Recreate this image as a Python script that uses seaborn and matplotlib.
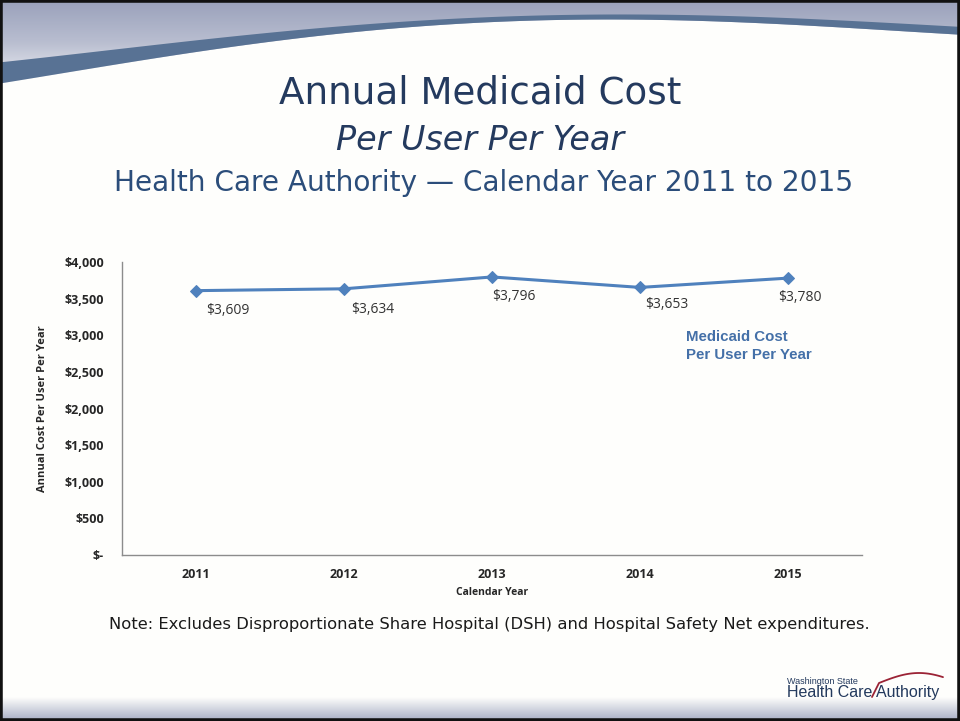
import numpy as np
import pandas as pd
import matplotlib
matplotlib.use("Agg")
import matplotlib.pyplot as plt
import seaborn as sns
from matplotlib.patches import Polygon, Rectangle
from matplotlib.colors import LinearSegmentedColormap

# data
years = ["2011", "2012", "2013", "2014", "2015"]
cost = [3609, 3634, 3796, 3653, 3780]
y_ticks = [0, 500, 1000, 1500, 2000, 2500, 3000, 3500, 4000]
y_tick_labels = ["$-", "$500", "$1,000", "$1,500", "$2,000", "$2,500", "$3,000", "$3,500", "$4,000"]

df = pd.DataFrame({"year": years, "cost": cost})

sns.set_style("white")
plt.rcParams['font.family'] = ['DejaVu Sans']

fig = plt.figure(figsize=(9.6, 7.21), dpi=100)
W, H = 960, 721

def fx(x):
    return x / W

def fy(y):
    return 1 - y / H

# --- slide decoration ---
grad = np.linspace(0, 1, 100).reshape(-1, 1)
bg = fig.add_axes([0, fy(85), 1, 85 / H], zorder=0)
bg.imshow(grad, aspect="auto", extent=[0, 1, 0, 1],
          cmap=LinearSegmentedColormap.from_list("g", ["#9aa1bb", "#b9bed0", "#f0f1f5"]))
bg.axis("off")
xs = np.linspace(0, W, 300)
kx = [0, 100, 200, 320, 480, 640, 800, 960]
up_c = np.polyfit(kx, [62, 52, 40, 27, 18, 15, 18, 27], 4)
lo_c = np.polyfit(kx, [83, 68, 52, 34, 23, 21, 24, 35], 4)
upper = np.polyval(up_c, xs)
lower = np.polyval(lo_c, xs)
white_pts = [(fx(x), fy(y)) for x, y in zip(xs, lower)] + [(1, fy(95)), (0, fy(95))]
fig.patches.append(Polygon(white_pts, closed=True, transform=fig.transFigure,
                           facecolor="#fefefc", edgecolor="none", zorder=1))
band_pts = [(fx(x), fy(y)) for x, y in zip(xs, upper)] + \
           [(fx(x), fy(y)) for x, y in zip(xs[::-1], lower[::-1])]
fig.patches.append(Polygon(band_pts, closed=True, transform=fig.transFigure,
                           facecolor="#587294", edgecolor="none", zorder=2))
fig.patch.set_facecolor("#fefefc")
# bottom gradient
bb = fig.add_axes([0, 0, 1, 24 / H], zorder=0)
bb.imshow(grad, aspect="auto", extent=[0, 1, 0, 1],
          cmap=LinearSegmentedColormap.from_list("b", ["#fefefc", "#a6adc4"]))
bb.axis("off")
# frame
fig.patches.append(Rectangle((0, 0), 1, 1, transform=fig.transFigure, fill=False,
                             edgecolor="#111111", linewidth=4, zorder=10))

# --- titles ---
navy = "#243a5e"
fig.text(0.5, fy(93), "Annual Medicaid Cost", ha="center", va="center",
         fontsize=26.8, color=navy)
fig.text(0.5, fy(140), "Per User Per Year", ha="center", va="center",
         fontsize=24, color=navy, style="italic")
fig.text(483.5 / W, fy(183), "Health Care Authority \u2014 Calendar Year 2011 to 2015",
         ha="center", va="center", fontsize=20.2, color="#2b4d7a")

# --- chart ---
ax = fig.add_axes([fx(122), fy(555), fx(862) - fx(122), (555 - 262) / H], zorder=3)
ax.set_facecolor("none")
sns.lineplot(data=df, x="year", y="cost", ax=ax, color="#4f81bd", linewidth=2.2,
             marker="D", markersize=6, markeredgecolor="#4f81bd", sort=False)
ax.set_xlim(-0.5, 4.5)
ax.set_ylim(0, 4000)
ax.set_yticks(y_ticks)
ax.set_yticklabels(y_tick_labels)
for lab in ax.get_yticklabels() + ax.get_xticklabels():
    lab.set_fontfamily("Open Sans")
    lab.set_fontweight("bold")
    lab.set_fontsize(9)
ax.tick_params(axis="both", length=0)
ax.tick_params(axis="x", pad=9)
ax.tick_params(axis="y", pad=13)
for s in ["top", "right"]:
    ax.spines[s].set_visible(False)
for s in ["left", "bottom"]:
    ax.spines[s].set_color("#8c8c8c")
    ax.spines[s].set_linewidth(1)
ax.set_xlabel("Calendar Year", fontfamily="Open Sans", fontweight="bold", fontsize=7.5, labelpad=5)
ax.set_ylabel("Annual Cost Per User Per Year", fontfamily="Open Sans", fontweight="bold",
              fontsize=8, labelpad=12)

label_offsets = [(7, -14), (5, -15), (0, -14), (4, -12), (-7, -14)]
for i, v in enumerate(cost):
    ax.annotate(f"${v:,}", (i, v), xytext=label_offsets[i], textcoords="offset points",
                ha="left", va="center", fontfamily="Open Sans", fontsize=10, color="#333333")

ax.text((686 - 122) / 740, (555 - 346) / 293, "Medicaid Cost\nPer User Per Year",
        transform=ax.transAxes, fontsize=10.8, fontweight="bold", color="#4470a8",
        fontfamily="Liberation Sans", ha="left", va="center", linespacing=1.35)

# note
fig.text(489.5 / W, fy(625), "Note: Excludes Disproportionate Share Hospital (DSH) and Hospital Safety Net expenditures.",
         ha="center", va="center", fontsize=11.8, color="#1a1a1a")

# logo
fig.text(fx(787), fy(681), "Washington State", fontsize=6.5, color="#23395d", va="center",
         fontfamily="Liberation Sans")
fig.text(fx(787), fy(693), "Health Care Authority", fontsize=11.5, color="#23395d", va="center",
         fontfamily="Liberation Sans")
t = np.linspace(0, 1, 40)
arc_x = 879 + 64 * t
arc_y = 683 - 10 * np.sin(t * np.pi * 0.8)
fig.lines.append(plt.Line2D(fx(np.r_[872, arc_x]), fy(np.r_[697, arc_y]), transform=fig.transFigure,
                            color="#9b2335", linewidth=1.3, zorder=5))

fig.savefig("out.png", dpi=100, facecolor=fig.get_facecolor())
